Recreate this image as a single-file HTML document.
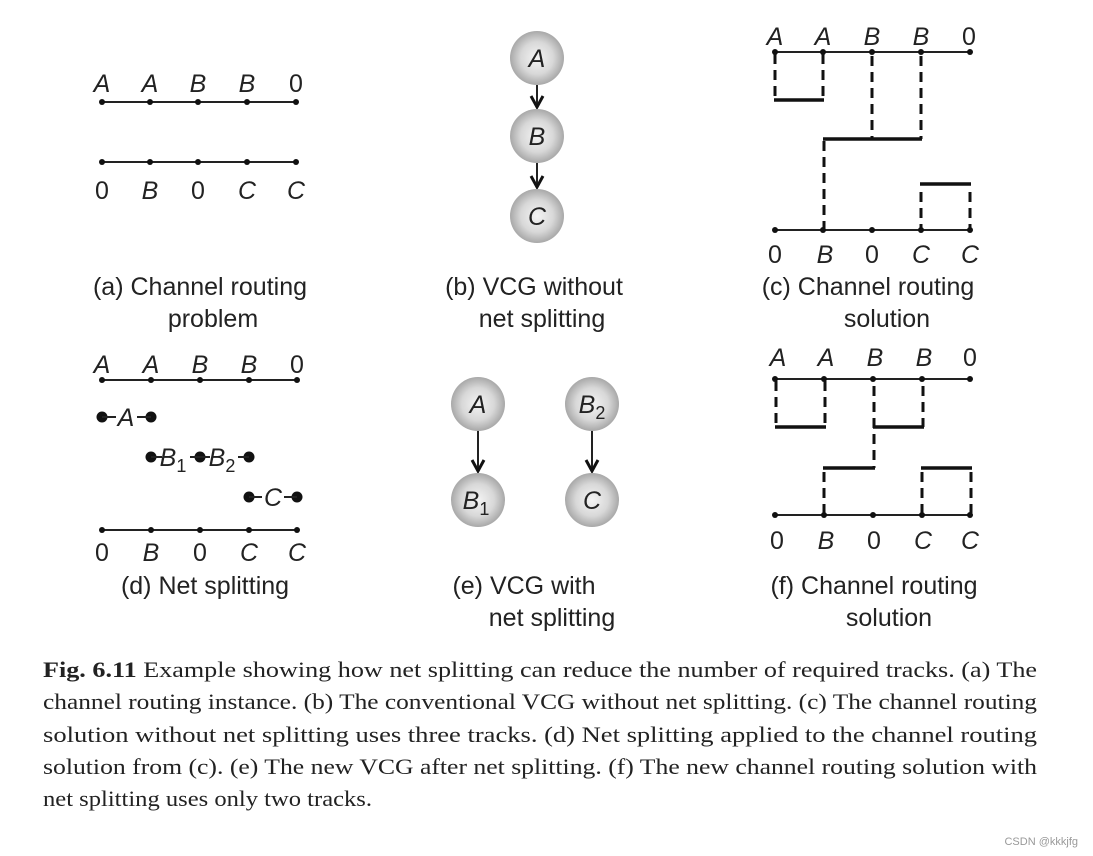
<!DOCTYPE html>
<html><head><meta charset="utf-8"><style>
html,body{margin:0;padding:0;background:#fff;}
svg{display:block;}
.l{font-family:"Liberation Sans",sans-serif;font-size:25px;font-style:italic;fill:#222;text-anchor:middle;}
.n{font-style:normal;}
.cap{font-family:"Liberation Sans",sans-serif;font-size:25px;fill:#222;text-anchor:middle;}
.t{font-family:"Liberation Serif",serif;font-size:22px;fill:#222;}
.ln{stroke:#222;stroke-width:2;}
.tr{stroke:#111;stroke-width:3.5;}
.ds{stroke:#111;stroke-width:3;stroke-dasharray:10,6;}
.ah{fill:none;stroke:#111;stroke-width:3;}
</style></head><body>
<svg width="1093" height="856" viewBox="0 0 1093 856" xmlns="http://www.w3.org/2000/svg">
<defs>
<radialGradient id="g" cx="50%" cy="50%" r="50%">
<stop offset="0" stop-color="#f4f4f4"/><stop offset="0.6" stop-color="#d8d8d8"/><stop offset="1" stop-color="#a8a8a8"/>
</radialGradient>
</defs>

<!-- (a) -->
<line class="ln" x1="102" y1="102" x2="296" y2="102"/>
<line class="ln" x1="102" y1="162" x2="296" y2="162"/>
<g fill="#111">
<circle cx="102" cy="102" r="3"/><circle cx="150" cy="102" r="3"/><circle cx="198" cy="102" r="3"/><circle cx="247" cy="102" r="3"/><circle cx="296" cy="102" r="3"/>
<circle cx="102" cy="162" r="3"/><circle cx="150" cy="162" r="3"/><circle cx="198" cy="162" r="3"/><circle cx="247" cy="162" r="3"/><circle cx="296" cy="162" r="3"/>
</g>
<text class="l" x="102" y="92">A</text><text class="l" x="150" y="92">A</text><text class="l" x="198" y="92">B</text><text class="l" x="247" y="92">B</text><text class="l n" x="296" y="92">0</text>
<text class="l n" x="102" y="199">0</text><text class="l" x="150" y="199">B</text><text class="l n" x="198" y="199">0</text><text class="l" x="247" y="199">C</text><text class="l" x="296" y="199">C</text>
<text class="cap" x="200" y="295">(a) Channel routing</text>
<text class="cap" x="213" y="327">problem</text>

<!-- (b) -->
<line class="ln" x1="537" y1="85" x2="537" y2="106" stroke-width="3"/>
<path class="ah" d="M531,96 L537,107 L543,96"/>
<line class="ln" x1="537" y1="163" x2="537" y2="186" stroke-width="3"/>
<path class="ah" d="M531,176 L537,187 L543,176"/>
<circle cx="537" cy="58" r="27" fill="url(#g)"/><text class="l" x="537" y="67">A</text>
<circle cx="537" cy="136" r="27" fill="url(#g)"/><text class="l" x="537" y="145">B</text>
<circle cx="537" cy="216" r="27" fill="url(#g)"/><text class="l" x="537" y="225">C</text>
<text class="cap" x="534" y="295">(b) VCG without</text>
<text class="cap" x="542" y="327">net splitting</text>

<!-- (c) -->
<line class="ln" x1="775" y1="52" x2="970" y2="52"/>
<line class="ln" x1="775" y1="230" x2="970" y2="230"/>
<g fill="#111">
<circle cx="775" cy="52" r="3"/><circle cx="823" cy="52" r="3"/><circle cx="872" cy="52" r="3"/><circle cx="921" cy="52" r="3"/><circle cx="970" cy="52" r="3"/>
<circle cx="775" cy="230" r="3"/><circle cx="823" cy="230" r="3"/><circle cx="872" cy="230" r="3"/><circle cx="921" cy="230" r="3"/><circle cx="970" cy="230" r="3"/>
</g>
<line class="ds" x1="775" y1="54" x2="775" y2="100"/><line class="ds" x1="823" y1="54" x2="823" y2="100"/>
<line class="tr" x1="774" y1="100" x2="824" y2="100"/>
<line class="ds" x1="872" y1="56" x2="872" y2="139"/><line class="ds" x1="921" y1="56" x2="921" y2="139"/>
<line class="tr" x1="823" y1="139" x2="922" y2="139"/>
<line class="ds" x1="824" y1="141" x2="824" y2="228"/>
<line class="tr" x1="920" y1="184" x2="971" y2="184"/>
<line class="ds" x1="921" y1="192" x2="921" y2="228"/><line class="ds" x1="970" y1="192" x2="970" y2="228"/>
<text class="l" x="775" y="45">A</text><text class="l" x="823" y="45">A</text><text class="l" x="872" y="45">B</text><text class="l" x="921" y="45">B</text><text class="l n" x="969" y="45">0</text>
<text class="l n" x="775" y="263">0</text><text class="l" x="825" y="263">B</text><text class="l n" x="872" y="263">0</text><text class="l" x="921" y="263">C</text><text class="l" x="970" y="263">C</text>
<text class="cap" x="868" y="295">(c) Channel routing</text>
<text class="cap" x="887" y="327">solution</text>

<!-- (d) -->
<line class="ln" x1="102" y1="380" x2="297" y2="380"/>
<line class="ln" x1="102" y1="530" x2="297" y2="530"/>
<g fill="#111">
<circle cx="102" cy="380" r="3"/><circle cx="151" cy="380" r="3"/><circle cx="200" cy="380" r="3"/><circle cx="249" cy="380" r="3"/><circle cx="297" cy="380" r="3"/>
<circle cx="102" cy="530" r="3"/><circle cx="151" cy="530" r="3"/><circle cx="200" cy="530" r="3"/><circle cx="249" cy="530" r="3"/><circle cx="297" cy="530" r="3"/>
<circle cx="102" cy="417" r="5.5"/><circle cx="151" cy="417" r="5.5"/>
<circle cx="151" cy="457" r="5.5"/><circle cx="200" cy="457" r="5.5"/><circle cx="249" cy="457" r="5.5"/>
<circle cx="249" cy="497" r="5.5"/><circle cx="297" cy="497" r="5.5"/>
</g>
<line class="ln" x1="102" y1="417" x2="116" y2="417" stroke-width="3"/><line class="ln" x1="137" y1="417" x2="151" y2="417" stroke-width="3"/>
<line class="ln" x1="151" y1="457" x2="162" y2="457" stroke-width="3"/><line class="ln" x1="190" y1="457" x2="210" y2="457" stroke-width="3"/><line class="ln" x1="238" y1="457" x2="249" y2="457" stroke-width="3"/>
<line class="ln" x1="249" y1="497" x2="262" y2="497" stroke-width="3"/><line class="ln" x1="284" y1="497" x2="297" y2="497" stroke-width="3"/>
<text class="l" x="126" y="426">A</text>
<text class="l" x="173" y="466">B<tspan class="n" font-size="18" dy="6">1</tspan></text>
<text class="l" x="222" y="466">B<tspan class="n" font-size="18" dy="6">2</tspan></text>
<text class="l" x="273" y="506">C</text>
<text class="l" x="102" y="373">A</text><text class="l" x="151" y="373">A</text><text class="l" x="200" y="373">B</text><text class="l" x="249" y="373">B</text><text class="l n" x="297" y="373">0</text>
<text class="l n" x="102" y="561">0</text><text class="l" x="151" y="561">B</text><text class="l n" x="200" y="561">0</text><text class="l" x="249" y="561">C</text><text class="l" x="297" y="561">C</text>
<text class="cap" x="205" y="594">(d) Net splitting</text>

<!-- (e) -->
<line class="ln" x1="478" y1="430" x2="478" y2="470" stroke-width="3"/>
<path class="ah" d="M472,460 L478,471 L484,460"/>
<line class="ln" x1="592" y1="430" x2="592" y2="470" stroke-width="3"/>
<path class="ah" d="M586,460 L592,471 L598,460"/>
<circle cx="478" cy="404" r="27" fill="url(#g)"/><text class="l" x="478" y="413">A</text>
<circle cx="478" cy="500" r="27" fill="url(#g)"/><text class="l" x="476" y="509">B<tspan class="n" font-size="18" dy="6">1</tspan></text>
<circle cx="592" cy="404" r="27" fill="url(#g)"/><text class="l" x="592" y="413">B<tspan class="n" font-size="18" dy="6">2</tspan></text>
<circle cx="592" cy="500" r="27" fill="url(#g)"/><text class="l" x="592" y="509">C</text>
<text class="cap" x="524" y="594">(e) VCG with</text>
<text class="cap" x="552" y="626">net splitting</text>

<!-- (f) -->
<line class="ln" x1="775" y1="379" x2="970" y2="379"/>
<line class="ln" x1="775" y1="515" x2="970" y2="515"/>
<g fill="#111">
<circle cx="775" cy="379" r="3"/><circle cx="824" cy="379" r="3"/><circle cx="873" cy="379" r="3"/><circle cx="922" cy="379" r="3"/><circle cx="970" cy="379" r="3"/>
<circle cx="775" cy="515" r="3"/><circle cx="824" cy="515" r="3"/><circle cx="873" cy="515" r="3"/><circle cx="922" cy="515" r="3"/><circle cx="970" cy="515" r="3"/>
</g>
<line class="ds" x1="776" y1="381" x2="776" y2="427"/><line class="ds" x1="825" y1="381" x2="825" y2="427"/>
<line class="tr" x1="775" y1="427" x2="826" y2="427"/>
<line class="ds" x1="874" y1="386" x2="874" y2="468"/><line class="ds" x1="923" y1="386" x2="923" y2="427"/>
<line class="tr" x1="873" y1="427" x2="924" y2="427"/>
<line class="tr" x1="823" y1="468" x2="875" y2="468"/>
<line class="ds" x1="824" y1="472" x2="824" y2="513"/>
<line class="tr" x1="921" y1="468" x2="972" y2="468"/>
<line class="ds" x1="922" y1="472" x2="922" y2="513"/><line class="ds" x1="971" y1="472" x2="971" y2="513"/>
<text class="l" x="778" y="366">A</text><text class="l" x="826" y="366">A</text><text class="l" x="875" y="366">B</text><text class="l" x="924" y="366">B</text><text class="l n" x="970" y="366">0</text>
<text class="l n" x="777" y="549">0</text><text class="l" x="826" y="549">B</text><text class="l n" x="874" y="549">0</text><text class="l" x="923" y="549">C</text><text class="l" x="970" y="549">C</text>
<text class="cap" x="874" y="594">(f) Channel routing</text>
<text class="cap" x="889" y="626">solution</text>

<!-- caption -->
<text class="t" x="43" y="677" textLength="994" lengthAdjust="spacingAndGlyphs"><tspan font-weight="bold">Fig. 6.11</tspan> Example showing how net splitting can reduce the number of required tracks. (a) The</text>
<text class="t" x="43" y="709" textLength="994" lengthAdjust="spacingAndGlyphs">channel routing instance. (b) The conventional VCG without net splitting. (c) The channel routing</text>
<text class="t" x="43" y="742" textLength="994" lengthAdjust="spacingAndGlyphs">solution without net splitting uses three tracks. (d) Net splitting applied to the channel routing</text>
<text class="t" x="43" y="774" textLength="994" lengthAdjust="spacingAndGlyphs">solution from (c). (e) The new VCG after net splitting. (f) The new channel routing solution with</text>
<text class="t" x="43" y="806" textLength="329" lengthAdjust="spacingAndGlyphs">net splitting uses only two tracks.</text>
<text x="1078" y="845" font-family="Liberation Sans,sans-serif" font-size="11" fill="#999" text-anchor="end">CSDN @kkkjfg</text>
</svg>
</body></html>
